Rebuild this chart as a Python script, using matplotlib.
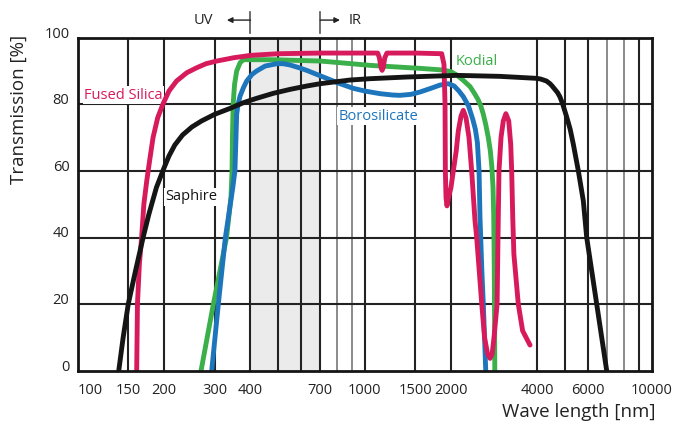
import numpy as np
import matplotlib.pyplot as plt
from matplotlib.transforms import ScaledTranslation

plt.rcParams['font.family'] = ['Open Sans', 'DejaVu Sans']

# Дані кривих пропускання (довжина хвилі, нм -> пропускання, %)
silica_nm = [160.5, 161, 161.5, 164, 167, 170, 174, 178, 183, 190, 198, 208, 221, 240, 260, 280,
             305, 350, 400, 500, 700, 1000, 1110, 1125, 1140, 1150, 1160, 1175, 1195, 1500, 1855,
             1889, 1905, 1910, 1920, 1935, 1960, 1998, 2036, 2084, 2119, 2166, 2206, 2254, 2309,
             2359, 2423, 2456, 2558, 2616, 2680, 2734, 2780, 2822, 2893, 2914, 2937, 2985, 3040,
             3104, 3176, 3227, 3252, 3280, 3310, 3429, 3550, 3767]
silica_t = [0, 10, 20, 32, 40, 50, 57, 63, 70, 76, 80, 84, 87, 89.5, 91, 92.2,
            93, 94, 94.7, 95.2, 95.4, 95.4, 95.4, 94, 91, 90.2, 91, 94, 95.4, 95.4, 95.2,
            92, 80, 60, 52, 49.5, 52, 55, 60, 66, 72, 76.5, 78.2, 76, 70,
            60, 45, 40, 20, 10, 5, 3.7, 5, 10, 20, 40, 60, 70, 75,
            77.2, 75, 68, 60, 46, 35, 20, 12, 7.7]

kodial_nm = [269, 297, 330, 342, 345, 346, 348, 352, 358, 368, 378, 470, 700, 820, 1045, 1560,
             1875, 2000, 2100, 2206, 2330, 2423, 2480, 2540, 2590, 2640, 2696, 2740, 2775, 2800,
             2815, 2825, 2833, 2840]
kodial_t = [0, 20, 40, 52, 60, 70, 80, 86, 90, 92.5, 93.4, 93.4, 93, 92.5, 91.7, 90.8,
            90.3, 89.8, 88.7, 87.2, 85.3, 83, 81.5, 79.5, 77, 74, 70, 66, 61, 55,
            47, 35, 20, 0]

boro_nm = [293, 309, 327, 347, 353, 356, 358, 362, 368, 378, 388, 405, 420, 450, 494, 520, 550,
           590, 628, 680, 757, 820, 913, 1000, 1131, 1250, 1327, 1450, 1558, 1700, 1831, 1956,
           2050, 2130, 2206, 2300, 2380, 2430, 2470, 2503, 2522, 2560, 2590, 2641]
boro_t = [0, 20, 40, 55, 60, 70, 77, 80, 82.5, 85, 87, 89, 90, 91.5, 92.2, 92.2, 91.8,
          91, 90.2, 89, 87.4, 86.2, 84.8, 84, 83.2, 82.8, 82.7, 83, 83.7, 84.8, 85.8, 86.2,
          85.5, 84, 82.3, 79.5, 75.5, 72.5, 68.5, 60, 46, 30, 20, 0]

saphire_nm = [139, 144, 150, 159, 169, 177, 188, 199, 208, 218, 232, 250, 270, 300, 340, 378,
              420, 480, 550, 628, 700, 889, 1045, 1401, 2093, 2960, 3976,
              4100, 4200, 4300, 4422, 4500, 4600, 4700, 4792, 4900, 5056, 5200, 5333, 5552,
              5778, 5937, 6433, 6970]
saphire_t = [0, 10, 20, 30, 40, 47, 55, 60.5, 64.5, 67.8, 70.8, 73.2, 75, 77, 78.8, 80.5,
             81.8, 83.3, 84.5, 85.5, 86.2, 87.3, 87.7, 88.2, 88.7, 88.4, 87.8,
             87.6, 87.3, 87, 86.2, 85.5, 84.5, 83.5, 82.2, 80, 76.2, 72.5, 68, 60,
             51, 40, 20, 0]

x_ticks = [100, 150, 200, 300, 400, 700, 1000, 1500, 2000, 4000, 6000, 10000]
y_ticks = [0, 20, 40, 60, 80, 100]
dark_lines = [150, 200, 300, 400, 500, 600, 700, 1000, 1500, 2000, 4000, 5000, 6000, 9000]
light_lines = [800, 900, 7000, 8000]

pink = '#d71a5b'
green = '#3aaf4a'
blue = '#1d75bc'
black = '#151515'

fig = plt.figure(figsize=(6.74, 4.24), dpi=100)
ax = fig.add_axes([0.1153, 0.1257, 0.8516, 0.7853])
ax.set_xscale('log')
ax.set_xlim(100, 10000)
ax.set_ylim(0, 100)

# Видима область
ax.axvspan(400, 700, color='#ebebeb', zorder=0, lw=0)

# Сітка
for v in dark_lines:
    ax.axvline(v, color='#222222', lw=1.5, zorder=1)
for v in light_lines:
    ax.axvline(v, color='#777777', lw=1.2, zorder=1)
for h in [20, 40, 60, 80]:
    ax.axhline(h, color='#222222', lw=1.5, zorder=1)

# Криві
lw = 3.5
ax.plot(kodial_nm, kodial_t, color=green, lw=lw, zorder=3, solid_joinstyle='round')
ax.plot(boro_nm, boro_t, color=blue, lw=lw, zorder=3, solid_joinstyle='round')
ax.plot(silica_nm, silica_t, color=pink, lw=lw, zorder=4, solid_capstyle='round', solid_joinstyle='round')
ax.plot(saphire_nm, saphire_t, color=black, lw=lw, zorder=4, solid_joinstyle='round')

# Підписи кривих
box = dict(facecolor='white', edgecolor='none', pad=1)
fs = 10.5
ax.text(105.4, 82.7, 'Fused Silica', color=pink, fontsize=fs, ha='left', va='center', bbox=box, zorder=2)
ax.text(201.5, 52.2, 'Saphire', color=black, fontsize=fs, ha='left', va='center', bbox=box, zorder=2)
ax.text(809, 76.4, 'Borosilicate', color=blue, fontsize=fs, ha='left', va='center', bbox=box, zorder=2)
ax.text(2080, 92.8, 'Kodial', color=green, fontsize=fs, ha='left', va='center', zorder=2)

# Осі
ax.set_xticks(x_ticks)
ax.set_xticklabels([str(t) for t in x_ticks])
ax.xaxis.set_minor_locator(plt.NullLocator())
ax.set_yticks(y_ticks)
ax.tick_params(length=0, labelsize=fs, colors='#222222', pad=6)
ax.tick_params(axis='x', pad=9)
ax.get_xticklabels()[0].set_ha('left')
for lab in ax.get_yticklabels():
    lab.set_transform(lab.get_transform() + ScaledTranslation(0, 4 / 72, fig.dpi_scale_trans))
for s in ax.spines.values():
    s.set_linewidth(2)
    s.set_color('#151515')
    s.set_zorder(5)

fig.text(0.028, 0.743, 'Transmission [%]', rotation=90, fontsize=13.5, ha='center', va='center', color='#222222')
fig.text(0.973, 0.029, 'Wave length [nm]', fontsize=13.5, ha='right', va='center', color='#222222')

# UV / IR позначки
tr = ax.get_xaxis_transform()
for v in [400, 700]:
    ax.plot([v, v], [1.014, 1.077], transform=tr, color='#555555', lw=1.2, clip_on=False)
ax.annotate('', xy=(331, 1.053), xytext=(400, 1.053), xycoords=tr, textcoords=tr,
            arrowprops=dict(arrowstyle='-|>', color='#222222', lw=1, mutation_scale=8, shrinkA=0, shrinkB=0))
ax.annotate('', xy=(820, 1.053), xytext=(700, 1.053), xycoords=tr, textcoords=tr,
            arrowprops=dict(arrowstyle='-|>', color='#222222', lw=1, mutation_scale=8, shrinkA=0, shrinkB=0))
ax.text(297, 1.053, 'UV', transform=tr, ha='right', va='center', fontsize=fs, color='#222222')
ax.text(877, 1.053, 'IR', transform=tr, ha='left', va='center', fontsize=fs, color='#222222')

plt.savefig('out.png', dpi=100)
